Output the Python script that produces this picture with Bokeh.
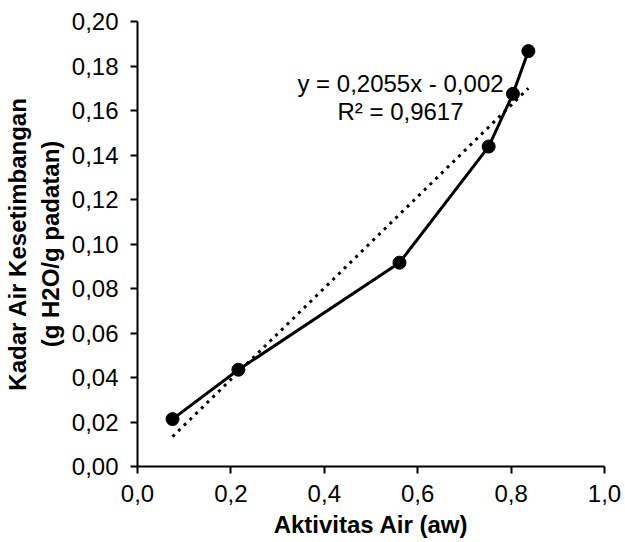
from bokeh.plotting import figure
from bokeh.models import FixedTicker, CustomJSTickFormatter, Label, Range1d
from bokeh.embed import file_html
from bokeh.resources import INLINE

# ---- data ----
aw = [0.075, 0.216, 0.561, 0.752, 0.804, 0.837]
kadar_air = [0.0213, 0.0435, 0.0916, 0.1438, 0.1675, 0.1867]

trend_slope = 0.2055
trend_intercept = -0.002
trend_eq_text = "y = 0,2055x - 0,002"
trend_r2_text = "R\u00b2 = 0,9617"

x_ticks = [0.0, 0.2, 0.4, 0.6, 0.8, 1.0]
x_tick_labels = ["0,0", "0,2", "0,4", "0,6", "0,8", "1,0"]
y_ticks = [0.0, 0.02, 0.04, 0.06, 0.08, 0.10, 0.12, 0.14, 0.16, 0.18, 0.20]
y_tick_labels = ["0,00", "0,02", "0,04", "0,06", "0,08", "0,10",
                 "0,12", "0,14", "0,16", "0,18", "0,20"]

x_title = "Aktivitas Air (aw)"
y_title = "Kadar Air Kesetimbangan\n(g H2O/g padatan)"

FONT = "Liberation Sans"

p = figure(
    width=625, height=542,
    frame_width=467, frame_height=445,
    min_border_left=137, min_border_right=21,
    min_border_top=21, min_border_bottom=76,
    x_range=Range1d(0, 1.0), y_range=Range1d(0, 0.2),
    output_backend="svg", toolbar_location=None,
)
p.outline_line_color = None
p.xgrid.visible = False
p.ygrid.visible = False
p.background_fill_color = "white"
p.border_fill_color = "white"

fmt_code = """
let best = 0; let bd = 1e9;
for (let i = 0; i < tvals.length; i++) {
  const d = Math.abs(tvals[i] - tick);
  if (d < bd) { bd = d; best = i; }
}
return tlabels[best];
"""
p.xaxis.ticker = FixedTicker(ticks=x_ticks)
p.xaxis.formatter = CustomJSTickFormatter(args=dict(tvals=x_ticks, tlabels=x_tick_labels), code=fmt_code)
p.yaxis.ticker = FixedTicker(ticks=y_ticks)
p.yaxis.formatter = CustomJSTickFormatter(args=dict(tvals=y_ticks, tlabels=y_tick_labels), code=fmt_code)

for ax in (p.xaxis, p.yaxis):
    ax.axis_line_width = 2
    ax.axis_line_color = "black"
    ax.major_tick_line_width = 2
    ax.major_tick_line_color = "black"
    ax.major_tick_in = 0
    ax.major_tick_out = 7
    ax.minor_tick_line_color = None
    ax.major_label_text_font = FONT
    ax.major_label_text_font_size = "24px"
    ax.major_label_text_color = "black"
    ax.axis_label_text_font = FONT
    ax.axis_label_text_font_size = "24px"
    ax.axis_label_text_font_style = "bold"
    ax.axis_label_text_color = "black"
p.xaxis.major_label_standoff = 11
p.yaxis.major_label_standoff = 12

p.yaxis.axis_label = y_title
p.yaxis.axis_label_standoff = 5
p.xaxis.axis_label = x_title
p.xaxis.axis_label_standoff = 6

# trend line (dotted)
tx = [min(aw), max(aw)]
ty = [trend_slope * v + trend_intercept for v in tx]
p.line(tx, ty, line_color="black", line_width=3, line_dash="3 5")

# data line with markers
p.line(aw, kadar_air, line_color="black", line_width=3)
p.scatter(aw, kadar_air, size=13, fill_color="black", line_color="black")

# trend annotation (screen offsets from the frame's lower-left corner)
for sy, txt in ((383, trend_eq_text), (355, trend_r2_text)):
    p.add_layout(Label(x=263, y=sy, x_units="screen", y_units="screen", text=txt,
                       text_align="center", text_baseline="alphabetic",
                       text_font=FONT, text_font_size="24px", text_color="black"))

open("out.html", "w").write(file_html(p, INLINE))
